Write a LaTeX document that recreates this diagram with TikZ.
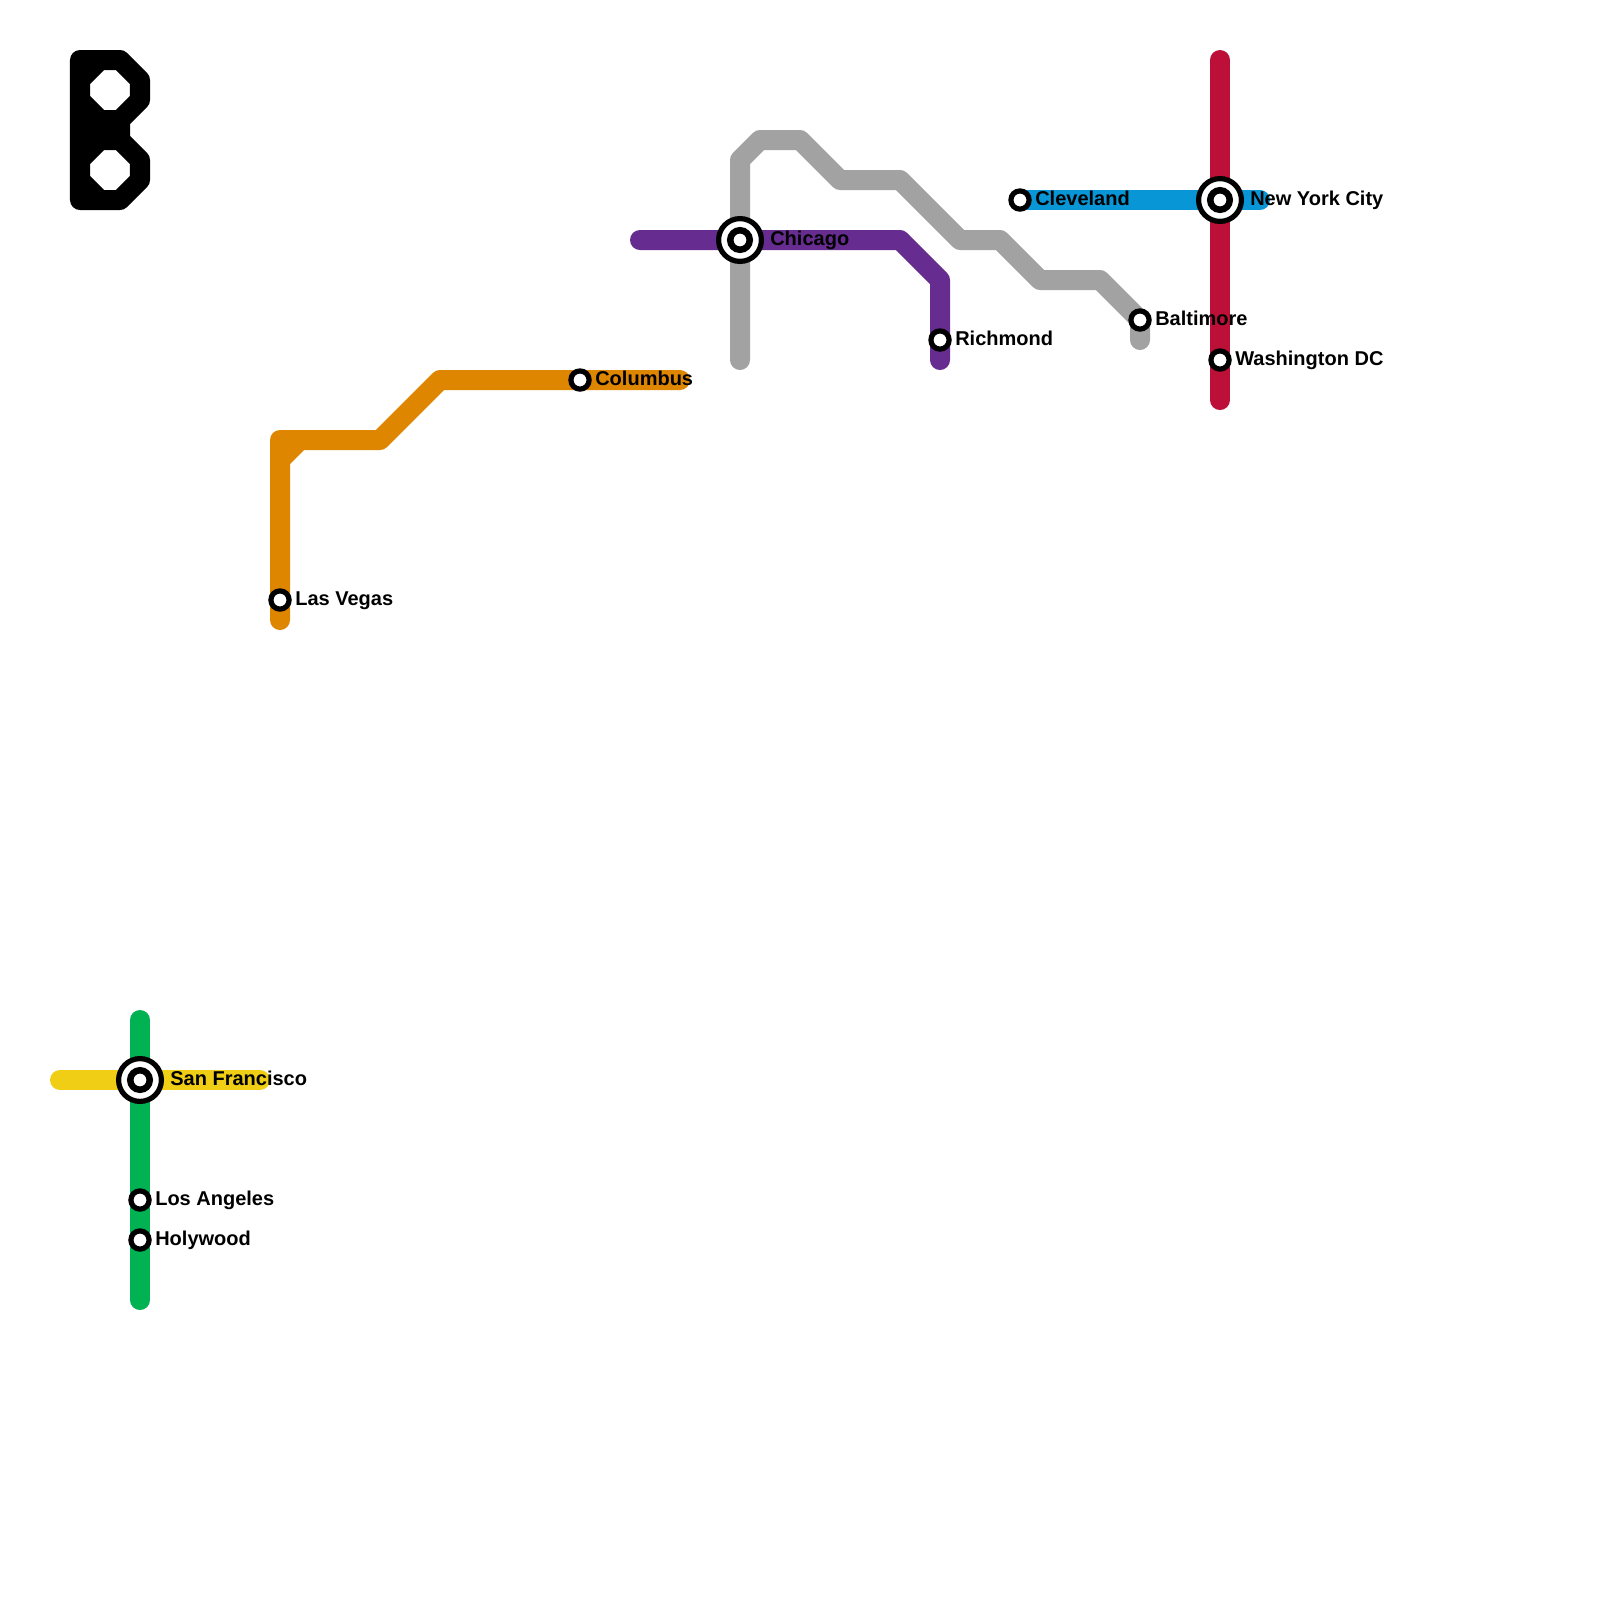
\documentclass[tikz,border=0pt]{standalone}
\usepackage{fontspec}
\setmainfont{Liberation Sans}
\usepackage{tikz}
\usetikzlibrary{backgrounds,shapes.geometric}
\definecolor{greenline}{HTML}{00B251}
\definecolor{yellowline}{HTML}{F0CE15}
\definecolor{orangeline}{HTML}{DF8600}
\definecolor{purpleline}{HTML}{662C90}
\definecolor{silverline}{HTML}{A2A2A2}
\definecolor{blueline}{HTML}{0896D7}
\definecolor{redline}{HTML}{BD1038}

\begin{document}
\begin{tikzpicture}[
x=0.025cm,y=-0.025cm,
metroline/.style={line width=0.5cm,line cap=round,line join=round},
station/.style={circle,draw=black,fill=white,line width=0.13cm,minimum size=0.455cm,inner sep=0pt},
interchange/.style={circle,draw=black,fill=white,line width=0.13cm,minimum size=1.07cm,inner sep=0pt},
hubcore/.style={circle,draw=black,fill=white,line width=0.1625cm,minimum size=0.4875cm,inner sep=0pt},
city/.style={anchor=base west,inner sep=0pt,xshift=0.375cm,yshift=-0.14cm,font=\bfseries\fontsize{14.23}{16}\selectfont},
bigcity/.style={city,xshift=0.375cm},]
\useasboundingbox (0,0) rectangle (1600,1600);

\node[interchange] (sfbig) at (140,1080) {};
\node[hubcore] (sf) at (140,1080) {};
\node[station] (la) at (140,1200) {};
\node[station] (hw) at (140,1240) {};
\node[station] (lv) at (280,600) {};
\node[station] (col) at (580,380) {};
\node[interchange] (chibig) at (740,240) {};
\node[hubcore] (chi) at (740,240) {};
\node[station] (rich) at (940,340) {};
\node[station] (cle) at (1020,200) {};
\node[station] (balt) at (1140,320) {};
\node[interchange] (nycbig) at (1220,200) {};
\node[hubcore] (nyc) at (1220,200) {};
\node[station] (dc) at (1220,360) {};

\node[bigcity] (sflabel) at (sf.center) {San Francisco};
\node[city] (lalabel) at (la.center) {Los Angeles};
\node[city] (hwlabel) at (hw.center) {Holywood};
\node[city] (lvlabel) at (lv.center) {Las Vegas};
\node[city] (collabel) at (col.center) {Columbus};
\node[bigcity] (chilabel) at (chi.center) {Chicago};
\node[city] (richlabel) at (rich.center) {Richmond};
\node[city] (clelabel) at (cle.center) {Cleveland};
\node[city] (baltlabel) at (balt.center) {Baltimore};
\node[bigcity] (nyclabel) at (nyc.center) {New York City};
\node[city] (dclabel) at (dc.center) {Washington DC};

\coordinate (yellowstart) at (60,1080);
\coordinate (yellowend) at (260,1080);
\coordinate (greenstart) at (140,1020);
\coordinate (greenend) at (140,1300);
\coordinate (orangeend) at (680,380);
\coordinate (orangestart) at (280,620);
\coordinate (purplestart) at (640,240);
\coordinate (purpleend) at (940,360);
\coordinate (silverstart) at (740,360);
\coordinate (silverend) at (1140,340);
\coordinate (blueend) at (1260,200);
\coordinate (redstart) at (1220,60);
\coordinate (redend) at (1220,400);

\begin{scope}[on background layer]
\draw[metroline,yellowline] (yellowstart) -- (sf.center) -- (yellowend);
\draw[metroline,greenline] (greenstart) -- (sf.center) -- (la.center) -- (hw.center) -- (greenend);
\draw[metroline,orangeline] (orangestart) -- (lv.center) -- (280,460) -- (300,440) -- (380,440) -- (440,380) -- (col.center) -- (orangeend);
\draw[metroline,orangeline] (280,460) -- (280,440) -- (300,440);
\draw[metroline,silverline] (silverstart) -- (chi.center) -- (740,160) -- (760,140) -- (800,140) -- (840,180) -- (900,180) -- (960,240) -- (1000,240) -- (1040,280) -- (1100,280) -- (balt.center) -- (silverend);
\draw[metroline,purpleline] (purplestart) -- (chi.center) -- (900,240) -- (940,280) -- (rich.center) -- (purpleend);
\draw[metroline,blueline] (cle.center) -- (nyc.center) -- (blueend);
\draw[metroline,redline] (redstart) -- (nyc.center) -- (dc.center) -- (redend);
\end{scope}

\draw[metroline,black] (80,60) -- (120,60) -- (140,80) -- (140,100) -- (120,120) -- (120,140) -- (140,160) -- (140,180) -- (120,200) -- (80,200) -- cycle
 (100,60) -- (80,80) (80,100) -- (100,120) (80,120) -- (120,120) (80,130) -- (120,130) (80,140) -- (120,140) (100,140) -- (80,160) (80,180) -- (100,200);
\end{tikzpicture}
\end{document}
